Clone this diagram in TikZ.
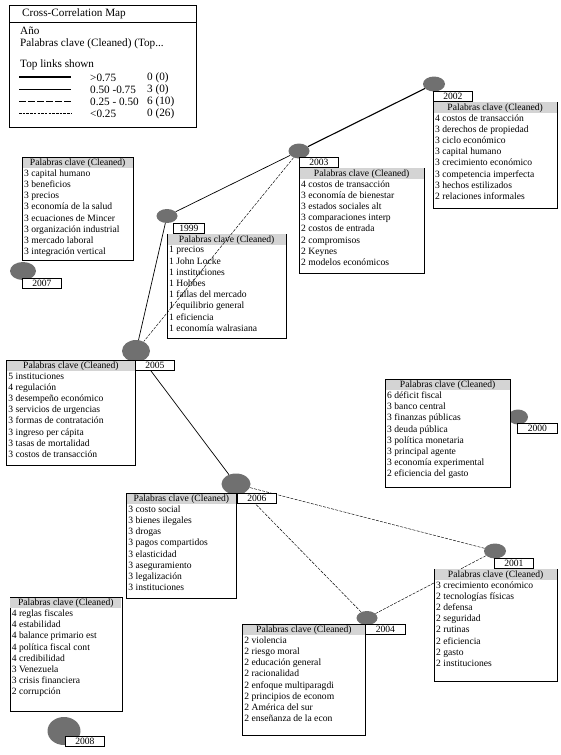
\documentclass[tikz,border=0pt]{standalone}
\usepackage{fontspec}
\setmainfont{Liberation Serif}
\usepackage{tikz}
\usetikzlibrary{shapes.geometric}
\usetikzlibrary{positioning}
\definecolor{dotgray}{RGB}{112,112,112}
\definecolor{headgray}{RGB}{212,212,212}
\tikzset{x=1pt, y=-1pt, font=\fontsize{9.6}{11.2}\selectfont}
\tikzstyle{year} = [ellipse, fill=dotgray, inner sep=0pt]
\tikzstyle{yearlab} = [draw, fill=white, rectangle, line width=0.8pt, minimum width=39pt, minimum height=10pt, inner sep=0pt, anchor=north west, font=\fontsize{9.6}{9.6}\selectfont]
\tikzstyle{kwframe} = [draw, fill=white, rectangle, line width=0.8pt, inner sep=0pt]
\tikzstyle{kwhead} = [fill=headgray, rectangle, minimum height=10.6pt, inner sep=0pt, anchor=north west]
\tikzstyle{kwlist} = [rectangle, inner xsep=2pt, inner ysep=1.5pt, anchor=north west, align=left]
\tikzstyle{legtext} = [anchor=west, inner sep=0pt, font=\fontsize{11.2}{13}\selectfont]
\tikzstyle{link} = [line width=0.7pt]
\tikzstyle{strong} = [line width=1.1pt]
\tikzstyle{weak} = [line width=0.45pt, dash pattern=on 3pt off 1.2pt]
% keyword list: name, anchor, position, width, height, lines
\newcommand{\keybox}[6]{%
  \node [kwframe, anchor=#2, minimum width=#4pt, minimum height=#5pt] (#1) at (#3) {};
  \node [kwhead, minimum width=#4pt-0.8pt] at ([xshift=0.4pt,yshift=-0.4pt]#1.north west) {Palabras clave (Cleaned)};
  \node [kwlist] at ([yshift=-11pt]#1.north west) {#6};
}

\begin{document}
\begin{tikzpicture}
    \useasboundingbox (0,0) rectangle (561,755);

    % legend
    \node [draw, line width=0.8pt, minimum width=187pt, minimum height=122pt, anchor=north west, inner sep=0pt] (legend) at (9,5) {};
    \draw [line width=0.8pt] ([yshift=-17pt]legend.north west) -- ([yshift=-17pt]legend.north east);
    \node [legtext] (title) at (22,14) {Cross-Correlation Map};
    \node [legtext] (ano) at (20,31) {Año};
    \node [legtext] (field) at (20,44) {Palabras clave (Cleaned) (Top...};
    \node [legtext] (shown) at (20,65) {Top links shown};
    \node [legtext] (r1) at (90,78) {>0.75};
    \node [legtext] (r2) at (90,90) {0.50 -0.75};
    \node [legtext] (r3) at (90,102) {0.25 - 0.50};
    \node [legtext] (r4) at (90,114) {<0.25};
    \node [legtext] (c1) at (147,78) {0 (0)};
    \node [legtext] (c2) at (147,90) {3 (0)};
    \node [legtext] (c3) at (147,102) {6 (10)};
    \node [legtext] (c4) at (147,114) {0 (26)};
    \draw [line width=2.6pt] (19,77) -- (71,77);
    \draw [line width=0.9pt] (19,89) -- (71,89);
    \draw [line width=0.8pt, dash pattern=on 7pt off 2pt] (19,101) -- (71,101);
    \draw [line width=0.6pt, dash pattern=on 2.5pt off 1.2pt] (19,113) -- (71,113);

    % years
    \node [year, minimum width=22pt, minimum height=15pt] (y2002) at (434,84) {};
    \node [year, minimum width=21pt, minimum height=15pt] (y2003) at (299,151) {};
    \node [year, minimum width=21pt, minimum height=14pt] (y1999) at (167,216) {};
    \node [year, minimum width=26pt, minimum height=18pt] (y2007) at (23,271) {};
    \node [year, minimum width=28pt, minimum height=22pt] (y2005) at (136,351) {};
    \node [year, minimum width=20pt, minimum height=15pt] (y2000) at (518,417) {};
    \node [year, minimum width=29pt, minimum height=21pt] (y2006) at (236,484) {};
    \node [year, minimum width=22pt, minimum height=15pt] (y2001) at (495,551) {};
    \node [year, minimum width=21pt, minimum height=14pt] (y2004) at (367,618) {};
    \node [year, minimum width=33pt, minimum height=28pt] (y2008) at (64,731) {};

    \draw [strong] (y2002) -- (y2003);
    \draw [link] (y1999) -- (y2003);
    \draw [link] (y1999) -- (y2005);
    \draw [link] (y2005) -- (y2006);
    \draw [weak] (y2006) -- (y2001);
    \draw [weak] (y2006) -- (y2004);
    \draw [weak] (y2004) -- (y2001);

    \node [yearlab] (l2002) at ([xshift=-1pt,yshift=-7pt]y2002.center) {2002};
    \node [yearlab] (l2003) at ([yshift=-6pt]y2003.center) {2003};
    \node [yearlab, minimum width=31pt] (l1999) at ([xshift=6pt,yshift=-7pt]y1999.center) {1999};
    \node [yearlab] (l2007) at ([xshift=-1pt,yshift=-7pt]y2007.center) {2007};
    \node [yearlab] (l2005) at ([xshift=-1pt,yshift=-9pt]y2005.center) {2005};
    \node [yearlab, minimum width=40pt] (l2000) at ([xshift=-1pt,yshift=-6pt]y2000.center) {2000};
    \node [yearlab] (l2006) at ([xshift=1pt,yshift=-9pt]y2006.center) {2006};
    \node [yearlab] (l2001) at ([xshift=-1pt,yshift=-7pt]y2001.center) {2001};
    \node [yearlab, minimum width=40pt] (l2004) at ([xshift=-2pt,yshift=-6pt]y2004.center) {2004};
    \node [yearlab] (l2008) at ([xshift=1pt,yshift=-5pt]y2008.center) {2008};

    \keybox{k2002}{north west}{l2002.south west}{124}{106}{4 costos de transacción\\3 derechos de propiedad\\3 ciclo económico\\3 capital humano\\3 crecimiento económico\\3 competencia imperfecta\\3 hechos estilizados\\2 relaciones informales}
    \keybox{k2003}{north west}{l2003.south west}{125}{105}{4 costos de transacción\\3 economía de bienestar\\3 estados sociales alt\\3 comparaciones interp\\2 costos de entrada\\2 compromisos\\2 Keynes\\2 modelos económicos}
    \keybox{k2007}{south west}{[xshift=-1pt,yshift=1pt]y2007.north}{111}{103}{3 capital humano\\3 beneficios\\3 precios\\3 economía de la salud\\3 ecuaciones de Mincer\\3 organización industrial\\3 mercado laboral\\3 integración vertical}
    \keybox{k1999}{north west}{[xshift=-6pt]l1999.south west}{119}{104}{1 precios\\1 John Locke\\1 instituciones\\1 Hobbes\\1 fallas del mercado\\1 equilibrio general\\1 eficiencia\\1 economía walrasiana}
    \keybox{k2005}{north east}{[xshift=1pt]l2005.north west}{129}{105}{5 instituciones\\4 regulación\\3 desempeño económico\\3 servicios de urgencias\\3 formas de contratación\\3 ingreso per cápita\\3 tasas de mortalidad\\3 costos de transacción}
    \keybox{k2000}{north west}{385,379}{125}{108}{6 déficit fiscal\\3 banco central\\3 finanzas públicas\\3 deuda pública\\3 política monetaria\\3 principal agente\\3 economía experimental\\2 eficiencia del gasto}
    \keybox{k2006}{north east}{l2006.north west}{110}{105}{3 costo social\\3 bienes ilegales\\3 drogas\\3 pagos compartidos\\3 elasticidad\\3 aseguramiento\\3 legalización\\3 instituciones}
    \keybox{k2001}{north west}{[xshift=-60pt]l2001.south west}{123}{112}{3 crecimiento económico\\2 tecnologías físicas\\2 defensa\\2 seguridad\\2 rutinas\\2 eficiencia\\2 gasto\\2 instituciones}
    \keybox{k2004}{north east}{[xshift=1pt]l2004.north west}{123}{111}{2 violencia\\2 riesgo moral\\2 educación general\\2 racionalidad\\2 enfoque multiparagdi\\2 principios de econom\\2 América del sur\\2 enseñanza de la econ}
    \keybox{k2008}{south}{[xshift=2pt,yshift=5pt]y2008.north}{112}{114}{4 reglas fiscales\\4 estabilidad\\4 balance primario est\\4 política fiscal cont\\4 credibilidad\\3 Venezuela\\3 crisis financiera\\2 corrupción}

    \draw [weak] (y2003) -- (y2005);
\end{tikzpicture}
\end{document}
